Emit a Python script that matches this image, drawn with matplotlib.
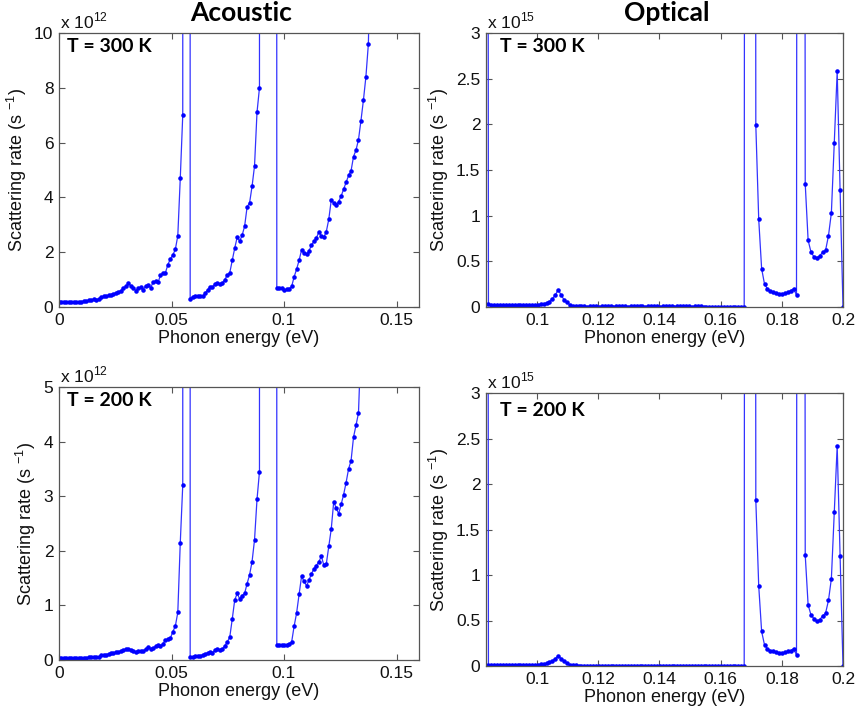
import numpy as np
import matplotlib
matplotlib.use("Agg")
import matplotlib.pyplot as plt

plt.rcParams['font.family'] = ['Liberation Sans', 'DejaVu Sans']
plt.rcParams['mathtext.fontset'] = 'custom'
plt.rcParams['mathtext.rm'] = 'Liberation Sans'

# ---------------------------------------------------------------- data
# Acoustic phonon energy grid (eV) and scattering rates (units of 1e12 s^-1).
# Values far above the plotted range mark the divergences between branches.
ac_step = 0.0011
rate_ac_300 = [
    0.20, 0.20, 0.20, 0.19, 0.18, 0.18, 0.19, 0.19, 0.19, 0.20,
    0.21, 0.22, 0.24, 0.26, 0.28, 0.27, 0.29, 0.36, 0.39, 0.40,
    0.42, 0.45, 0.48, 0.52, 0.55, 0.60, 0.70, 0.75, 0.86, 0.78,
    0.70, 0.60, 0.68, 0.72, 0.62, 0.78, 0.80, 0.70, 0.90, 0.95,
    0.90, 1.15, 1.25, 1.25, 1.55, 1.75, 1.90, 2.10, 2.60, 4.70,
    7.00,
    400.0, 900.0,
    0.30, 0.38, 0.40, 0.41, 0.40, 0.39, 0.50, 0.62, 0.74, 0.72,
    0.84, 0.88, 0.84, 0.88, 1.00, 1.17, 1.25, 1.70, 2.15, 2.55,
    2.40, 2.62, 2.95, 3.65, 3.80, 4.40, 5.15, 7.10, 8.00,
    500.0, 700.0, 900.0, 900.0, 700.0, 500.0,
    0.69, 0.69, 0.68, 0.63, 0.64, 0.66, 0.75, 1.10, 1.38, 1.70,
    2.08, 1.98, 1.92, 2.05, 2.25, 2.40, 2.52, 2.74, 2.60, 2.55,
    2.75, 3.20, 3.90, 3.80, 3.72, 3.85, 4.05, 4.30, 4.55, 4.80,
    4.97, 5.49, 5.73, 6.10, 6.80, 7.55, 8.40, 9.60,
    14.0, 30.0,
]
rate_ac_200 = [
    0.03, 0.03, 0.03, 0.03, 0.03, 0.03, 0.03, 0.03, 0.03, 0.03,
    0.04, 0.04, 0.05, 0.05, 0.05, 0.05, 0.06, 0.09, 0.10, 0.10,
    0.11, 0.12, 0.13, 0.14, 0.15, 0.17, 0.18, 0.20, 0.21, 0.19,
    0.16, 0.14, 0.16, 0.17, 0.16, 0.20, 0.23, 0.21, 0.22, 0.25,
    0.27, 0.25, 0.30, 0.36, 0.39, 0.40, 0.52, 0.62, 0.87, 2.15,
    3.20,
    400.0, 900.0,
    0.05, 0.06, 0.07, 0.08, 0.08, 0.09, 0.11, 0.13, 0.15, 0.13,
    0.18, 0.20, 0.19, 0.20, 0.26, 0.33, 0.42, 0.75, 1.10, 1.22,
    1.12, 1.18, 1.22, 1.40, 1.56, 1.80, 2.20, 2.94, 3.45,
    500.0, 700.0, 900.0, 900.0, 700.0, 500.0,
    0.28, 0.28, 0.28, 0.28, 0.28, 0.30, 0.33, 0.62, 0.86, 1.20,
    1.53, 1.44, 1.36, 1.46, 1.58, 1.67, 1.73, 1.80, 1.90, 1.74,
    1.76, 2.08, 2.40, 2.90, 2.78, 2.68, 2.85, 3.03, 3.25, 3.50,
    3.65, 4.08, 4.30, 4.52,
    5.80, 9.00, 14.0,
]

# Optical phonon energy grid (eV) and scattering rates (units of 1e15 s^-1).
op_start = 0.08315
op_step = 0.00095
rate_op_300 = [
    40.0, 0.030,
    0.022, 0.021, 0.020, 0.020, 0.021, 0.020, 0.020, 0.021, 0.020, 0.020,
    0.021, 0.022, 0.021, 0.022, 0.022,
    0.022, 0.025, 0.030, 0.035, 0.045, 0.060, 0.090, 0.130, 0.190, 0.130,
    0.080, 0.050, 0.025, 0.012,
    0.007, 0.006, 0.006, 0.006, 0.005, 0.006, 0.006, 0.006, 0.005, 0.006,
    0.006, 0.006, 0.006, 0.005, 0.006, 0.006, 0.006, 0.006, 0.005, 0.006,
    0.006, 0.006, 0.006, 0.006, 0.005, 0.006, 0.006, 0.006, 0.006, 0.005,
    0.006, 0.006, 0.006, 0.006, 0.005, 0.006, 0.006, 0.006, 0.006, 0.006,
    0.005, 0.006, 0.006, 0.006, 0.005, 0.005,
    0.002, 0.002, 0.002, 0.001, 0.002, 0.002, 0.002, 0.001, 0.002, 0.002,
    0.002, 0.002, 0.002,
    40.0, 60.0, 40.0,
    1.99, 0.96, 0.42, 0.25, 0.20, 0.17, 0.16, 0.15, 0.14, 0.14,
    0.15, 0.16, 0.18, 0.20, 0.13,
    40.0, 40.0,
    1.35, 0.73, 0.60, 0.55, 0.54, 0.56, 0.60, 0.62, 0.78, 1.03,
    1.80, 2.58, 1.28, 0.00,
]
rate_op_200 = [
    40.0, 0.015,
    0.011, 0.010, 0.010, 0.010, 0.011, 0.010, 0.010, 0.010, 0.011, 0.010,
    0.010, 0.011, 0.011, 0.011, 0.011,
    0.012, 0.014, 0.018, 0.022, 0.030, 0.040, 0.058, 0.080, 0.113, 0.082,
    0.052, 0.030, 0.015, 0.008,
    0.006, 0.005, 0.005, 0.005, 0.005, 0.005, 0.005, 0.005, 0.005, 0.005,
    0.005, 0.005, 0.005, 0.005, 0.005, 0.005, 0.005, 0.005, 0.005, 0.005,
    0.005, 0.005, 0.005, 0.005, 0.005, 0.005, 0.005, 0.005, 0.005, 0.005,
    0.005, 0.005, 0.005, 0.005, 0.005, 0.005, 0.005, 0.005, 0.005, 0.005,
    0.005, 0.005, 0.005, 0.005, 0.004, 0.004,
    0.001, 0.001, 0.001, 0.001, 0.001, 0.001, 0.001, 0.001, 0.001, 0.001,
    0.001, 0.001, 0.001,
    40.0, 60.0, 40.0,
    1.82, 0.88, 0.38, 0.23, 0.19, 0.17, 0.16, 0.15, 0.14, 0.14,
    0.15, 0.16, 0.17, 0.19, 0.12,
    40.0, 40.0,
    1.22, 0.67, 0.56, 0.52, 0.49, 0.51, 0.55, 0.58, 0.72, 0.96,
    1.69, 2.42, 1.21, 0.00,
]

# Axis ticks and labels
ac_xticks = [0, 0.05, 0.1, 0.15]
ac_xticklabels = ['0', '0.05', '0.1', '0.15']
op_xticks = [0.1, 0.12, 0.14, 0.16, 0.18, 0.2]
op_xticklabels = ['0.1', '0.12', '0.14', '0.16', '0.18', '0.2']
ac300_yticks = [0, 2, 4, 6, 8, 10]
ac200_yticks = [0, 1, 2, 3, 4, 5]
op_yticks = [0, 0.5, 1, 1.5, 2, 2.5, 3]
op_yticklabels = ['0', '0.5', '1', '1.5', '2', '2.5', '3']
column_titles = ['Acoustic', 'Optical']
temp_labels = ['T = 300 K', 'T = 200 K']
x_label = 'Phonon energy (eV)'
y_label = r'Scattering rate (s $^{\mathregular{-1}}$)'

# ---------------------------------------------------------------- figure
W, H = 856, 714
fig = plt.figure(figsize=(W / 100, H / 100), dpi=100)
fig.patch.set_facecolor('white')


def px_axes(left, top, right, bottom):
    return fig.add_axes([left / W, 1 - bottom / H, (right - left) / W, (bottom - top) / H])


frame_col = '#555555'
line_col = (0.2, 0.2, 1.0)
marker_col = (0.0, 0.0, 1.0)
tick_fs = 12.5
label_fs = 13


def style(ax):
    for s in ax.spines.values():
        s.set_color(frame_col)
        s.set_linewidth(0.9)
    ax.tick_params(direction='in', top=True, right=True, length=4, width=0.8,
                   color=frame_col, labelsize=tick_fs, labelcolor='#111111', pad=4)
    ax.set_xlabel(x_label, fontsize=label_fs, color='#111111', labelpad=2)
    ax.set_ylabel(y_label, fontsize=label_fs, color='#111111', labelpad=4)


def draw(ax, x, y):
    ax.plot(x, y, '-', color=line_col, lw=0.9, marker='.', ms=4.5,
            mfc=marker_col, mec=marker_col, clip_on=True)


def exponent(ax, exp_text):
    ax.annotate('x 10' + r'$^{\mathregular{' + exp_text + '}}$', xy=(0, 1),
                xycoords='axes fraction', xytext=(1, 5), textcoords='offset pixels',
                ha='left', va='baseline', fontsize=12.5, color='#111111')


def temp_tag(ax, text, dx, dy):
    ax.annotate(text, xy=(0, 1), xycoords='axes fraction', xytext=(dx, -dy),
                textcoords='offset pixels', ha='left', va='center',
                fontsize=14, fontweight='bold', family=['Lato', 'DejaVu Sans'],
                color='black')


energy_ac = np.arange(len(rate_ac_300)) * ac_step
energy_op = op_start + np.arange(len(rate_op_300)) * op_step

ax1 = px_axes(59, 33, 419, 307)
ax2 = px_axes(486, 33, 843, 307)
ax3 = px_axes(59, 387, 419, 660)
ax4 = px_axes(486, 393, 843, 666)

# Acoustic, 300 K
draw(ax1, energy_ac[:len(rate_ac_300)], rate_ac_300)
ax1.set_xlim(0, 0.16)
ax1.set_ylim(0, 10)
ax1.set_xticks(ac_xticks, ac_xticklabels)
ax1.set_yticks(ac300_yticks, [str(v) for v in ac300_yticks])
style(ax1)
exponent(ax1, '12')
temp_tag(ax1, temp_labels[0], 8, 14)

# Optical, 300 K
draw(ax2, energy_op[:len(rate_op_300)], rate_op_300)
ax2.set_xlim(0.0833, 0.2)
ax2.set_ylim(0, 3)
ax2.set_xticks(op_xticks, op_xticklabels)
ax2.set_yticks(op_yticks, op_yticklabels)
style(ax2)
exponent(ax2, '15')
temp_tag(ax2, temp_labels[0], 14, 14)

# Acoustic, 200 K
draw(ax3, energy_ac[:len(rate_ac_200)], rate_ac_200)
ax3.set_xlim(0, 0.16)
ax3.set_ylim(0, 5)
ax3.set_xticks(ac_xticks, ac_xticklabels)
ax3.set_yticks(ac200_yticks, [str(v) for v in ac200_yticks])
style(ax3)
exponent(ax3, '12')
temp_tag(ax3, temp_labels[1], 8, 13)

# Optical, 200 K
draw(ax4, energy_op[:len(rate_op_200)], rate_op_200)
ax4.set_xlim(0.0833, 0.2)
ax4.set_ylim(0, 3)
ax4.set_xticks(op_xticks, op_xticklabels)
ax4.set_yticks(op_yticks, op_yticklabels)
style(ax4)
exponent(ax4, '15')
temp_tag(ax4, temp_labels[1], 14, 17)

# Column headings
for ax, title in zip((ax1, ax2), column_titles):
    ax.annotate(title, xy=(0.5, 1), xycoords='axes fraction', xytext=(2, 20),
                textcoords='offset pixels', ha='center', va='center',
                fontsize=19, fontweight='bold', family=['Lato', 'DejaVu Sans'],
                color='black')

fig.savefig('out.png', dpi=100, facecolor='white')
